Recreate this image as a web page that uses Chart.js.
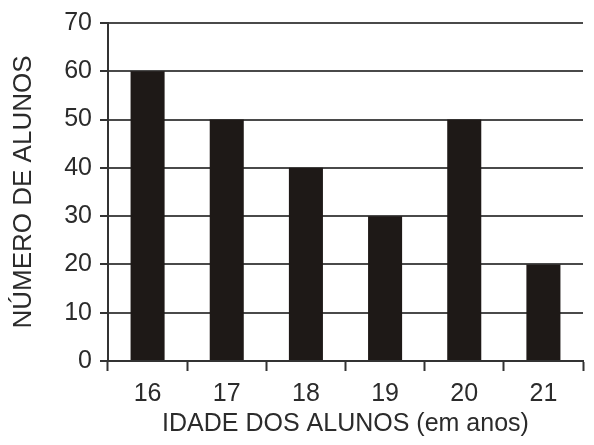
<!doctype html>
<html>
<head>
	<title>Número de alunos por idade</title>
	<script src="https://cdn.jsdelivr.net/npm/chart.js@4/dist/chart.umd.min.js"></script>
	<style>
		html, body { margin: 0; padding: 0; background: #fff; }
		#holder { width: 594px; height: 445px; }
	</style>
</head>
<body>
	<div id="holder">
		<canvas id="chart-area" width="594" height="445"></canvas>
	</div>
	<script>
		const idades = ['16', '17', '18', '19', '20', '21'];
		const alunos = [60, 50, 40, 30, 50, 20];
		const yTicks = [0, 10, 20, 30, 40, 50, 60, 70];

		const textColor = '#2b2b2b';
		const fontFamily = '"Liberation Sans", Arial, sans-serif';

		const ctx2d = document.getElementById('chart-area').getContext('2d');
		window.myBar = new Chart(ctx2d, {
			type: 'bar',
			data: {
				labels: idades,
				datasets: [{
					data: alunos,
					backgroundColor: '#1e1917',
					borderWidth: 0,
					barPercentage: 0.43,
					categoryPercentage: 1
				}]
			},
			options: {
				responsive: false,
				animation: false,
				layout: {
					padding: { top: 19, right: 11, bottom: 0, left: 0 }
				},
				plugins: {
					legend: { display: false },
					tooltip: { enabled: false }
				},
				scales: {
					x: {
						offset: true,
						afterFit(scale) {
							scale.height = 84;
						},
						grid: {
							offset: true,
							drawOnChartArea: false,
							drawTicks: true,
							tickLength: 10,
							tickWidth: 2,
							tickColor: '#333'
						},
						border: { color: '#333', width: 2 },
						ticks: {
							color: textColor,
							padding: 8,
							font: { family: fontFamily, size: 25 }
						},
						title: {
							display: true,
							text: 'IDADE DOS ALUNOS (em anos)',
							color: textColor,
							padding: { top: 0, bottom: 6 },
							font: { family: fontFamily, size: 25 }
						}
					},
					y: {
						min: 0,
						max: 70,
						afterBuildTicks(scale) {
							scale.ticks = yTicks.map(v => ({ value: v }));
						},
						afterFit(scale) {
							scale.width = 108;
						},
						grid: {
							color: '#4a4a4a',
							lineWidth: 2,
							tickLength: 8,
							tickColor: '#333'
						},
						border: { color: '#333', width: 2 },
						ticks: {
							color: textColor,
							padding: 8,
							font: { family: fontFamily, size: 25 }
						},
						title: {
							display: true,
							text: 'NÚMERO DE ALUNOS',
							color: textColor,
							padding: { top: 8, bottom: 0 },
							font: { family: fontFamily, size: 26 }
						}
					}
				}
			}
		});
	</script>
</body>
</html>
